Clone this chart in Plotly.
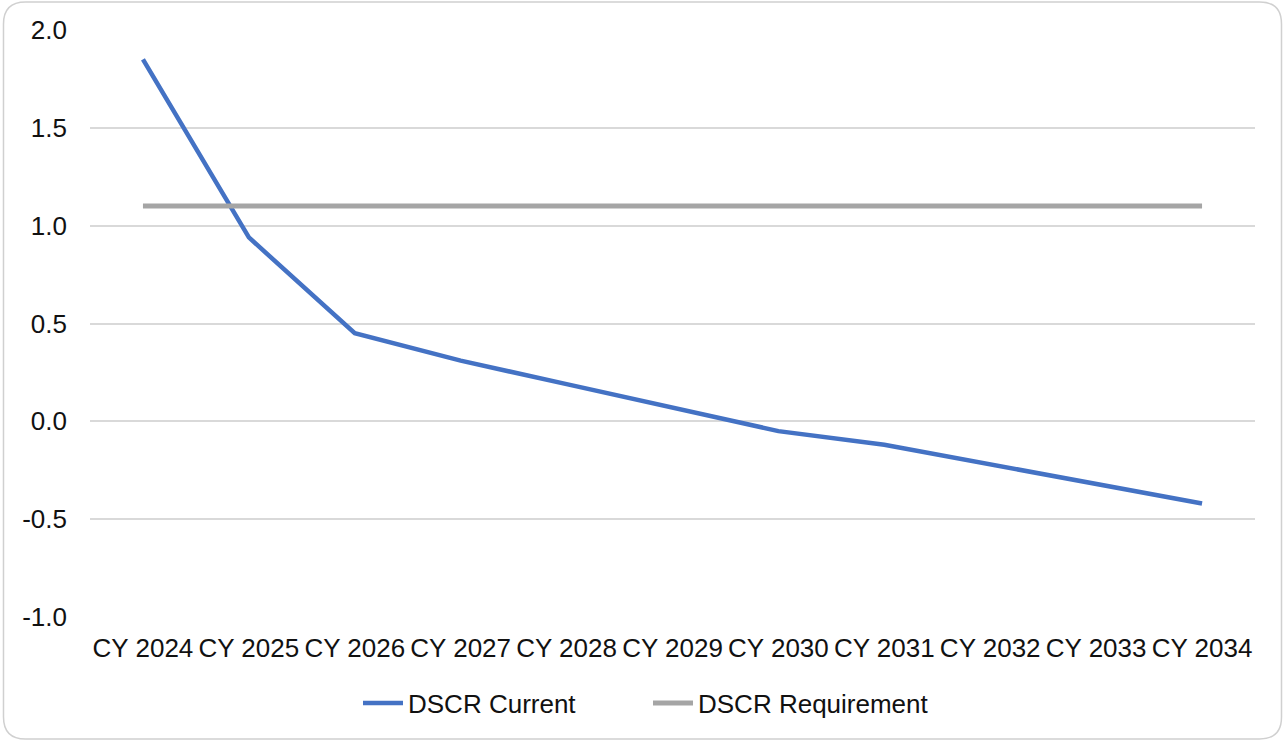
import plotly.graph_objects as go

# Calendar years on the category axis
years = ["CY 2024", "CY 2025", "CY 2026", "CY 2027", "CY 2028", "CY 2029",
         "CY 2030", "CY 2031", "CY 2032", "CY 2033", "CY 2034"]

# Debt service coverage ratio, projected
dscr_current = [1.85, 0.94, 0.45, 0.31, 0.19, 0.07, -0.05, -0.12, -0.22, -0.32, -0.42]
# Covenant minimum
dscr_requirement = [1.10] * len(years)

y_ticks = [-1.0, -0.5, 0.0, 0.5, 1.0, 1.5, 2.0]
y_tick_labels = ["-1.0", "-0.5", "0.0", "0.5", "1.0", "1.5", "2.0"]

W, H = 1285, 741
ML, MR, MT, MB = 90, 30, 30, 124
PW, PH = W - ML - MR, H - MT - MB

font_family = "Liberation Sans, Arial, sans-serif"
FS = 26

fig = go.Figure()
fig.add_trace(go.Scatter(
    x=years, y=dscr_current, name="DSCR Current", mode="lines",
    line=dict(color="#4472C4", width=4.5),
))
fig.add_trace(go.Scatter(
    x=years, y=dscr_requirement, name="DSCR Requirement", mode="lines",
    line=dict(color="#A5A5A5", width=5),
))


def px_to_paper(px, py):
    return (px - ML) / PW, (H - MB - py) / PH


def P(px, py):
    x, y = px_to_paper(px, py)
    return f"{x:.5f},{y:.5f}"


# Rounded outer frame of the chart card
left, top, right, bottom, r = 3.5, 2.0, 1281.5, 739.0, 22.0
path = (
    f"M {P(left + r, top)} L {P(right - r, top)} "
    f"Q {P(right, top)} {P(right, top + r)} "
    f"L {P(right, bottom - r)} Q {P(right, bottom)} {P(right - r, bottom)} "
    f"L {P(left + r, bottom)} Q {P(left, bottom)} {P(left, bottom - r)} "
    f"L {P(left, top + r)} Q {P(left, top)} {P(left + r, top)} Z"
)
fig.add_shape(type="path", path=path, xref="paper", yref="paper",
              line=dict(color="#D0D0D0", width=1.5), layer="below")

leg_x, leg_y = px_to_paper(648, 703)

fig.update_layout(
    width=W, height=H,
    margin=dict(l=ML, r=MR, t=MT, b=MB),
    paper_bgcolor="white", plot_bgcolor="white",
    font=dict(family=font_family, size=FS, color="#111111"),
    showlegend=True,
    legend=dict(orientation="h", x=leg_x, y=leg_y, xanchor="center", yanchor="middle",
                font=dict(size=FS), itemwidth=40,
                entrywidth=235, entrywidthmode="pixels"),
    xaxis=dict(
        type="category", showgrid=False, zeroline=False, showline=False,
        ticks="", tickfont=dict(size=FS), ticklabelstandoff=13,
        range=[-0.5, len(years) - 0.5],
    ),
    yaxis=dict(
        range=[-1.0, 2.0], tickvals=y_ticks, ticktext=y_tick_labels,
        showgrid=True, gridcolor="#D9D9D9", gridwidth=1.5,
        zeroline=False, showline=False, ticks="",
        tickfont=dict(size=FS), ticklabelstandoff=22,
    ),
)

fig.write_html("out.html")
